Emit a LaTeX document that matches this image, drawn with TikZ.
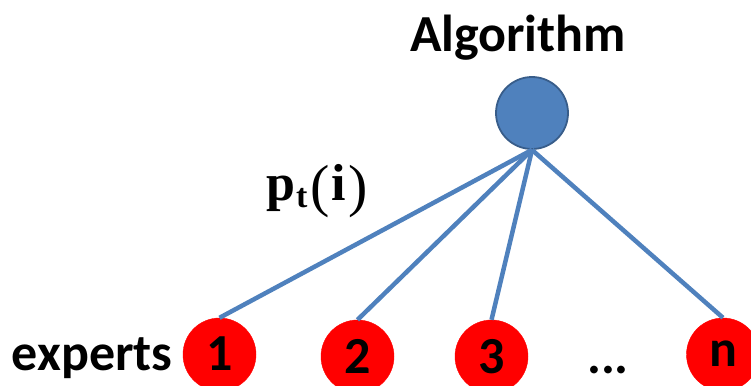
\documentclass[tikz,border=0pt]{standalone}
\usepackage{fontspec}
\setmainfont{Carlito}
\newfontfamily\timesfont{Liberation Serif}
\usepackage{tikz}
\usetikzlibrary{positioning}

\definecolor{algblue}{RGB}{79,129,189}
\definecolor{algborder}{RGB}{56,93,138}

\tikzset{
  bigtext/.style={font=\fontsize{52}{52}\selectfont\bfseries},
  algnode/.style={circle, minimum size=72pt, inner sep=0pt, fill=algblue, draw=algborder, line width=1.8pt},
  expertnode/.style={circle, minimum size=73pt, inner sep=0pt, fill=red, draw=red, bigtext},
  weightline/.style={draw=algblue, line width=4.5pt}
}

\begin{document}
\begin{tikzpicture}[x=1pt, y=-1pt]
  \useasboundingbox (0,0) rectangle (751,385);
  % algorithm on top
  \node[bigtext, anchor=base] (title) at (518,52) {Algorithm};
  \node[algnode] (alg) at (532,113) {};
  % experts in a row
  \foreach \i/\x/\y/\lbl in {1/219.5/354.5/1, 2/357.5/356.5/2, 3/491.5/356.5/3, 4/723/354.5/n} {
    \node[expertnode] (e\i) at (\x,\y) {\raisebox{1pt}{\lbl}};
  }
  \node[bigtext, anchor=base east] (experts) at (176,370) {experts};
  \node[bigtext, anchor=base] (dots) at (608,373) {...};
  % weights
  \foreach \i in {1,2,3,4} {
    \draw[weightline] (alg.south) -- (e\i.north);
  }
  \node[anchor=base west, inner sep=0pt, font=\timesfont\fontsize{52}{52}\selectfont\bfseries] (weight) at (266,200)
    {p\kern1pt\raisebox{-7pt}{\fontsize{34}{34}\selectfont t}\kern3pt%
     \raisebox{-5pt}{\fontsize{58}{58}\selectfont\mdseries(}\kern2pt i\kern2pt%
     \raisebox{-5pt}{\fontsize{58}{58}\selectfont\mdseries)}};
\end{tikzpicture}
\end{document}
